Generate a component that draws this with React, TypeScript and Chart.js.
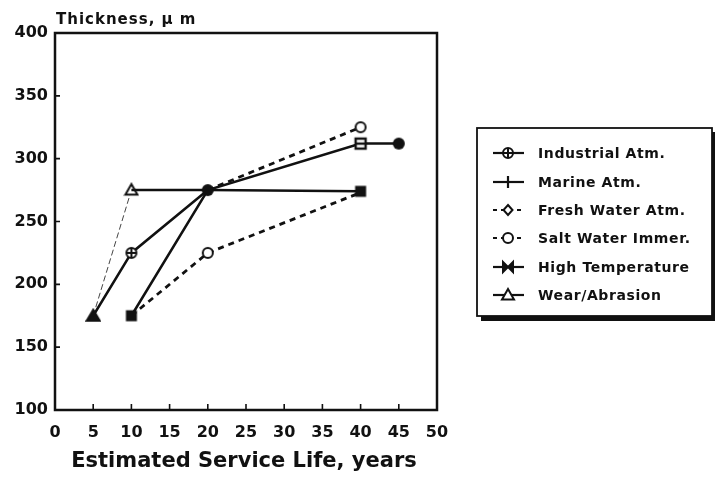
import React, { useEffect, useRef } from "react";
import { Chart, registerables } from "chart.js";

Chart.register(...registerables);

// ---- data ----
const industrialYears = [5, 10, 20];
const industrialThickness = [175, 225, 275];
const marineYears = [10, 20, 40, 45];
const marineThickness = [175, 275, 312, 312];
const freshYears = [10, 20, 40];
const freshThickness = [175, 225, 273];
const saltYears = [20, 40];
const saltThickness = [275, 325];
const highTempYears = [10, 20, 40];
const highTempThickness = [275, 275, 274];
const wearYears = [5, 10];
const wearThickness = [175, 275];

const seriesLabels = [
  "Industrial Atm.",
  "Marine Atm.",
  "Fresh Water Atm.",
  "Salt Water Immer.",
  "High Temperature",
  "Wear/Abrasion",
];
const xTickValues = [0, 5, 10, 15, 20, 25, 30, 35, 40, 45, 50];
const yTickValues = [100, 150, 200, 250, 300, 350, 400];
const yAxisTitle = "Thickness, \u03bc m";
const xAxisTitle = "Estimated Service Life, years";

const FONT = '"DejaVu Sans", "Liberation Sans", sans-serif';

type MarkerKind =
  | "theta"
  | "openCircle"
  | "filledRect"
  | "filledCircle"
  | "rectTheta"
  | "diamond"
  | "bowtie"
  | "triOpen"
  | "triFilled"
  | "vtick";

function makeMarker(kind: MarkerKind): HTMLCanvasElement {
  const s = 16;
  const c = document.createElement("canvas");
  c.width = s;
  c.height = s;
  const g = c.getContext("2d")!;
  const m = s / 2;
  g.strokeStyle = "#111";
  g.fillStyle = "#111";
  g.lineWidth = 2;
  switch (kind) {
    case "theta":
      g.beginPath();
      g.arc(m, m, 5, 0, Math.PI * 2);
      g.fillStyle = "#fff";
      g.fill();
      g.stroke();
      g.beginPath();
      g.moveTo(m - 5, m);
      g.lineTo(m + 5, m);
      g.moveTo(m, m - 5);
      g.lineTo(m, m + 5);
      g.stroke();
      break;
    case "openCircle":
      g.beginPath();
      g.arc(m, m, 5, 0, Math.PI * 2);
      g.fillStyle = "#fff";
      g.fill();
      g.stroke();
      break;
    case "filledRect":
      g.fillRect(m - 5.5, m - 5.5, 11, 11);
      break;
    case "filledCircle":
      g.beginPath();
      g.arc(m, m, 6, 0, Math.PI * 2);
      g.fill();
      break;
    case "rectTheta":
      g.fillStyle = "#fff";
      g.fillRect(m - 5, m - 5, 10, 10);
      g.lineWidth = 2.4;
      g.strokeRect(m - 5, m - 5, 10, 10);
      g.beginPath();
      g.moveTo(m - 5, m);
      g.lineTo(m + 5, m);
      g.stroke();
      break;
    case "diamond":
      g.beginPath();
      g.moveTo(m, m - 5);
      g.lineTo(m + 4.5, m);
      g.lineTo(m, m + 5);
      g.lineTo(m - 4.5, m);
      g.closePath();
      g.fillStyle = "#fff";
      g.fill();
      g.stroke();
      break;
    case "bowtie":
      g.beginPath();
      g.moveTo(m - 5, m - 5);
      g.lineTo(m, m);
      g.lineTo(m - 5, m + 5);
      g.closePath();
      g.moveTo(m + 5, m - 5);
      g.lineTo(m, m);
      g.lineTo(m + 5, m + 5);
      g.closePath();
      g.fill();
      g.lineWidth = 2;
      g.stroke();
      break;
    case "triOpen":
      g.beginPath();
      g.moveTo(m, m - 6);
      g.lineTo(m + 6, m + 4.5);
      g.lineTo(m - 6, m + 4.5);
      g.closePath();
      g.fillStyle = "#fff";
      g.fill();
      g.stroke();
      break;
    case "triFilled":
      g.beginPath();
      g.moveTo(m, m - 6);
      g.lineTo(m + 6.5, m + 5);
      g.lineTo(m - 6.5, m + 5);
      g.closePath();
      g.fill();
      g.stroke();
      break;
    case "vtick":
      g.lineWidth = 2.2;
      g.beginPath();
      g.moveTo(m, m - 6);
      g.lineTo(m, m + 6);
      g.stroke();
      break;
  }
  return c;
}

function pts(xs: number[], ys: number[]) {
  return xs.map((x, i) => ({ x, y: ys[i] }));
}

export default function App() {
  const ref = useRef<HTMLCanvasElement | null>(null);

  useEffect(() => {
    if (!ref.current) return;
    const mk = {
      theta: makeMarker("theta"),
      openCircle: makeMarker("openCircle"),
      filledRect: makeMarker("filledRect"),
      filledCircle: makeMarker("filledCircle"),
      rectTheta: makeMarker("rectTheta"),
      diamond: makeMarker("diamond"),
      bowtie: makeMarker("bowtie"),
      triOpen: makeMarker("triOpen"),
      triFilled: makeMarker("triFilled"),
      vtick: makeMarker("vtick"),
    };

    const legendSpecs = [
      { dash: [] as number[], marker: mk.theta },
      { dash: [] as number[], marker: mk.vtick },
      { dash: [4, 4], marker: mk.diamond },
      { dash: [4, 4], marker: mk.openCircle },
      { dash: [] as number[], marker: mk.bowtie },
      { dash: [] as number[], marker: mk.triOpen },
    ];

    const decorPlugin = {
      id: "decor",
      afterDraw(chart: any) {
        const ctx: CanvasRenderingContext2D = chart.ctx;
        const a = chart.chartArea;
        const xs = chart.scales.x;
        const ys = chart.scales.y;
        ctx.save();
        // plot frame
        ctx.strokeStyle = "#111";
        ctx.lineWidth = 2.5;
        ctx.strokeRect(a.left, a.top, a.right - a.left, a.bottom - a.top);
        // inward ticks
        ctx.lineWidth = 1.6;
        ctx.beginPath();
        xTickValues.forEach((v) => {
          const px = xs.getPixelForValue(v);
          if (px <= a.left + 1 || px >= a.right - 1) return;
          ctx.moveTo(px, a.bottom);
          ctx.lineTo(px, a.bottom - 6);
        });
        yTickValues.forEach((v) => {
          const py = ys.getPixelForValue(v);
          if (py <= a.top + 1 || py >= a.bottom - 1) return;
          ctx.moveTo(a.left, py);
          ctx.lineTo(a.left + 5, py);
        });
        ctx.stroke();

        // axis titles
        ctx.fillStyle = "#111";
        ctx.textAlign = "left";
        ctx.textBaseline = "alphabetic";
        ctx.font = `bold 15px ${FONT}`;
        (ctx as any).letterSpacing = "1px";
        ctx.fillText(yAxisTitle, a.left + 1, 24);
        (ctx as any).letterSpacing = "0px";
        ctx.textAlign = "center";
        ctx.font = `bold 21px ${FONT}`;
        ctx.fillText(xAxisTitle, 244, 467);

        // legend
        const L = 477, T = 128, R = 712, B = 316;
        ctx.fillStyle = "#fff";
        ctx.fillRect(L, T, R - L, B - T);
        ctx.fillStyle = "#111";
        ctx.fillRect(481, B, 715 - 481, 5);
        ctx.fillRect(R, T + 4, 715 - R, B - T);
        ctx.lineWidth = 1.8;
        ctx.strokeRect(L, T, R - L, B - T);
        const rowY = [153, 182, 210, 238, 267, 295];
        ctx.font = `bold 14px ${FONT}`;
        ctx.textAlign = "left";
        ctx.textBaseline = "middle";
        (ctx as any).letterSpacing = "0.6px";
        seriesLabels.forEach((label, i) => {
          const y = rowY[i];
          const spec = legendSpecs[i];
          ctx.strokeStyle = "#111";
          ctx.lineWidth = 2.2;
          ctx.setLineDash(spec.dash);
          ctx.beginPath();
          ctx.moveTo(493, y);
          ctx.lineTo(524, y);
          ctx.stroke();
          ctx.setLineDash([]);
          const mw = spec.marker.width;
          ctx.drawImage(spec.marker, 508 - mw / 2, y - mw / 2);
          ctx.fillStyle = "#111";
          ctx.fillText(label, 538, y + 1);
        });
        (ctx as any).letterSpacing = "0px";
        ctx.restore();
      },
    };

    const base = {
      borderColor: "#111",
      backgroundColor: "#111",
      fill: false,
      tension: 0,
      showLine: true,
    };

    const chart = new Chart(ref.current, {
      type: "scatter",
      data: {
        datasets: [
          {
            ...base,
            label: seriesLabels[0],
            data: pts(industrialYears, industrialThickness),
            borderWidth: 2.5,
            pointRadius: [0, 6, 0],
            pointStyle: [mk.theta, mk.theta, mk.theta] as any,
          },
          {
            ...base,
            label: seriesLabels[1],
            data: pts(marineYears, marineThickness),
            borderWidth: 2.5,
            pointRadius: [6, 6, 6, 6],
            pointStyle: [mk.filledRect, mk.filledCircle, mk.rectTheta, mk.filledCircle] as any,
          },
          {
            ...base,
            label: seriesLabels[2],
            data: pts(freshYears, freshThickness),
            borderWidth: 2.8,
            borderDash: [6, 5],
            pointRadius: [0, 6, 0],
            pointStyle: [mk.diamond, mk.openCircle, mk.diamond] as any,
          },
          {
            ...base,
            label: seriesLabels[3],
            data: pts(saltYears, saltThickness),
            borderWidth: 2.8,
            borderDash: [6, 5],
            pointRadius: [0, 6],
            pointStyle: [mk.openCircle, mk.openCircle] as any,
          },
          {
            ...base,
            label: seriesLabels[4],
            data: pts(highTempYears, highTempThickness),
            borderWidth: 2.5,
            pointRadius: [0, 0, 6],
            pointStyle: [mk.bowtie, mk.bowtie, mk.filledRect] as any,
          },
          {
            ...base,
            label: seriesLabels[5],
            data: pts(wearYears, wearThickness),
            borderWidth: 1,
            borderColor: "#444",
            borderDash: [6, 3],
            pointRadius: [6, 6],
            pointStyle: [mk.triFilled, mk.triOpen] as any,
          },
        ],
      },
      options: {
        animation: false,
        responsive: false,
        events: [],
        layout: { padding: { top: 33, right: 278, left: 0, bottom: 0 } },
        plugins: {
          legend: { display: false },
          tooltip: { enabled: false },
          title: { display: false },
        },
        scales: {
          x: {
            type: "linear",
            min: 0,
            max: 50,
            afterFit: (s: any) => {
              s.height = 68;
            },
            afterBuildTicks: (s: any) => {
              s.ticks = xTickValues.map((v) => ({ value: v }));
            },
            grid: { display: false, drawTicks: false },
            border: { display: false },
            ticks: {
              color: "#111",
              padding: 13,
              font: { family: FONT, size: 16, weight: "bold" },
            },
          },
          y: {
            type: "linear",
            min: 100,
            max: 400,
            afterFit: (s: any) => {
              s.width = 55;
            },
            afterBuildTicks: (s: any) => {
              s.ticks = yTickValues.map((v) => ({ value: v }));
            },
            grid: { display: false, drawTicks: false },
            border: { display: false },
            ticks: {
              color: "#111",
              padding: 7,
              font: { family: FONT, size: 16, weight: "bold" },
            },
          },
        },
      },
      plugins: [decorPlugin],
    } as any);

    return () => chart.destroy();
  }, []);

  return (
    <div style={{ position: "fixed", left: 0, top: 0, width: 715, height: 478, background: "#fff" }}>
      <canvas ref={ref} width={715} height={478} style={{ display: "block", width: 715, height: 478 }} />
    </div>
  );
}
